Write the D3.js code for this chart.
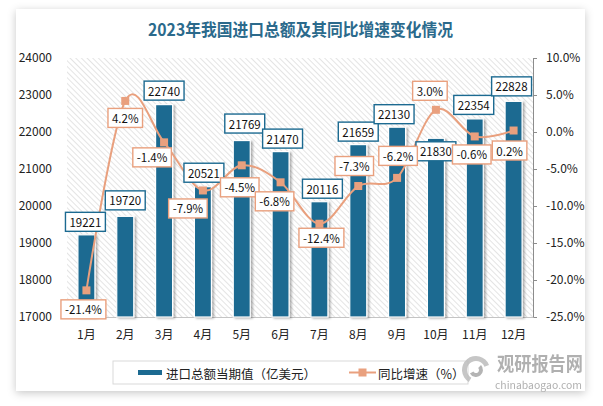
<!DOCTYPE html>
<html><head><meta charset="utf-8">
<script src="https://cdn.jsdelivr.net/npm/d3@7"></script>
<style>
html,body{margin:0;padding:0;background:#fff;}
svg{display:block;}
text{font-family:"Noto Sans CJK SC","Noto Sans",sans-serif;}
</style></head>
<body>
<script>
// ---- data ----
const months = ["1月","2月","3月","4月","5月","6月","7月","8月","9月","10月","11月","12月"];
const importValue = [19221,19720,22740,20521,21769,21470,20116,21659,22130,21830,22354,22828];
const yoyGrowth = [-21.4,4.2,-1.4,-7.9,-4.5,-6.8,-12.4,-7.3,-6.2,3.0,-0.6,0.2];
const leftTicks = [17000,18000,19000,20000,21000,22000,23000,24000];
const rightTicks = [-25,-20,-15,-10,-5,0,5,10];
const title = "2023年我国进口总额及其同比增速变化情况";
const seriesNames = ["进口总额当期值（亿美元）","同比增速（%）"];
// label placement offsets (px) for readability
const barLabelOff = [[-1,-13],[0,-16],[0,-14],[1,-14],[3,-17],[2,-13],[3,-13],[0,-13],[-3,-13],[0,13],[-1,-14],[-2,-15]];
const lineLabelOff = [[-3,19],[0,17],[-12,15],[-15,18],[-2,22],[-6,19],[2,14],[-4,-20],[1,-22],[-6,-19],[-3,18],[-4,20]];

const W=603,H=406;
const barColor="#1c6a91", lineColor="#e9a07e";
const plot={l:67,r:533,t:58,b:317};

const svg=d3.select("body").append("svg").attr("width",W).attr("height",H);
const defs=svg.append("defs");
const cs=defs.append("filter").attr("id","cardShadow").attr("x","-10%").attr("y","-10%").attr("width","120%").attr("height","125%");
cs.append("feDropShadow").attr("dx",0).attr("dy",2).attr("stdDeviation",4).attr("flood-color","#000").attr("flood-opacity",0.22);
const bs=defs.append("filter").attr("id","barShadow").attr("x","-50%").attr("y","-10%").attr("width","200%").attr("height","120%");
bs.append("feDropShadow").attr("dx",2).attr("dy",1).attr("stdDeviation",1).attr("flood-color","#000").attr("flood-opacity",0.3);
const pat=defs.append("pattern").attr("id","hatch").attr("patternUnits","userSpaceOnUse")
  .attr("width",4).attr("height",4).attr("patternTransform","rotate(-45)");
pat.append("rect").attr("width",4).attr("height",4).attr("fill","#fff");
pat.append("line").attr("x1",0).attr("y1",0).attr("x2",0).attr("y2",4).attr("stroke","#d2d2d2").attr("stroke-width",1.2);

// card
svg.append("rect").attr("x",16).attr("y",9).attr("width",569).attr("height",382).attr("fill","#fff").attr("filter","url(#cardShadow)");

// title
svg.append("text").attr("x",300.5).attr("y",36).attr("text-anchor","middle")
  .attr("font-size",17).attr("font-weight","bold").attr("fill","#2b6a8c")
  .attr("textLength",305).attr("lengthAdjust","spacingAndGlyphs").text(title);

// scales
const x=d3.scaleBand().domain(months).range([plot.l,plot.r]).paddingInner(0).paddingOuter(0);
const yL=d3.scaleLinear().domain([17000,24000]).range([plot.b,plot.t]);
const yR=d3.scaleLinear().domain([-25,10]).range([plot.b,plot.t]);

// plot background hatch
svg.append("rect").attr("x",plot.l).attr("y",plot.t).attr("width",plot.r-plot.l).attr("height",plot.b-plot.t).attr("fill","url(#hatch)");

// left axis (labels only)
const axL=svg.append("g").attr("transform",`translate(${plot.l},0)`)
  .call(d3.axisLeft(yL).tickValues(leftTicks).tickSize(0).tickPadding(15).tickFormat(d3.format("d")));
axL.select(".domain").remove();
axL.selectAll("text").attr("font-size",12).attr("fill","#222").style("font-family",'"Noto Sans CJK SC",sans-serif');

// right axis
const axR=svg.append("g").attr("transform",`translate(${plot.r},0)`)
  .call(d3.axisRight(yR).tickValues(rightTicks).tickSize(4).tickPadding(9).tickFormat(d=>d.toFixed(1)+"%"));
axR.select(".domain").attr("stroke","#8c8c8c");
axR.selectAll("line").attr("stroke","#8c8c8c");
axR.selectAll("text").attr("font-size",12).attr("fill","#222").style("font-family",'"Noto Sans CJK SC",sans-serif');

// bottom axis
const axB=svg.append("g").attr("transform",`translate(0,${plot.b})`)
  .call(d3.axisBottom(x).tickSize(0).tickPadding(13));
axB.select(".domain").attr("stroke","#c4c4c4");
axB.selectAll("text").attr("font-size",12).attr("fill","#222").style("font-family",'"Noto Sans CJK SC",sans-serif');

// bars
const bw=17;
svg.append("g").selectAll("rect").data(importValue).join("rect")
  .attr("x",(d,i)=>x(months[i])+x.bandwidth()/2-bw/2)
  .attr("y",d=>yL(d)).attr("width",bw).attr("height",d=>plot.b-yL(d))
  .attr("fill",barColor).attr("stroke","#fff").attr("stroke-width",1.2)
  .attr("filter","url(#barShadow)");

// line
const cx=i=>x(months[i])+x.bandwidth()/2;
const line=d3.line().x((d,i)=>cx(i)).y(d=>yR(d)).curve(d3.curveCardinal.tension(0));
svg.append("path").datum(yoyGrowth).attr("d",line).attr("fill","none").attr("stroke",lineColor).attr("stroke-width",2);
svg.append("g").selectAll("rect").data(yoyGrowth).join("rect")
  .attr("x",(d,i)=>cx(i)-4).attr("y",d=>yR(d)-4).attr("width",8).attr("height",8).attr("fill",lineColor);

// labels
function box(g,cxp,cyp,txt,stroke){
  const t=g.append("text").attr("x",cxp).attr("y",cyp).attr("text-anchor","middle").attr("dominant-baseline","central")
    .attr("font-size",11.5).attr("fill","#111").text(txt);
  const w=t.node().getComputedTextLength()+8, h=19;
  g.insert("rect","text").attr("x",cxp-w/2).attr("y",cyp-h/2).attr("width",w).attr("height",h)
    .attr("fill","#fff").attr("stroke",stroke).attr("stroke-width",1.4);
}
importValue.forEach((d,i)=>{
  const g=svg.append("g");
  box(g,cx(i)+barLabelOff[i][0],yL(d)+barLabelOff[i][1],String(d),barColor);
});
yoyGrowth.forEach((d,i)=>{
  const g=svg.append("g");
  box(g,cx(i)+lineLabelOff[i][0],yR(d)+lineLabelOff[i][1],d.toFixed(1)+"%",lineColor);
});

// legend
const lg=svg.append("g");
lg.append("rect").attr("x",113).attr("y",361).attr("width",355).attr("height",23).attr("fill","#fff").attr("stroke","#d9d9d9");
lg.append("rect").attr("x",138).attr("y",370).attr("width",24).attr("height",5).attr("fill",barColor);
lg.append("text").attr("x",166).attr("y",373).attr("dominant-baseline","central").attr("font-size",12.5).attr("fill","#222").text(seriesNames[0]);
lg.append("line").attr("x1",349).attr("x2",376).attr("y1",372.5).attr("y2",372.5).attr("stroke",lineColor).attr("stroke-width",2);
lg.append("rect").attr("x",358.5).attr("y",368.5).attr("width",8).attr("height",8).attr("fill",lineColor);
lg.append("text").attr("x",378).attr("y",373).attr("dominant-baseline","central").attr("font-size",12.5).attr("fill","#222").text(seriesNames[1]);

// watermark
const wm=svg.append("g").attr("opacity",0.85);
const arc=d3.arc();
wm.append("path").attr("transform","translate(476,370)")
  .attr("d",arc({innerRadius:9,outerRadius:14,startAngle:-2.6,endAngle:1.2})).attr("fill","#bdbdbd");
wm.append("path").attr("transform","translate(476,370)")
  .attr("d",arc({innerRadius:3,outerRadius:7,startAngle:0.8,endAngle:4.2})).attr("fill","#a8a8a8");
wm.append("text").attr("x",497).attr("y",371).attr("font-size",19).attr("font-weight","bold").attr("fill","#a3a3a3")
  .attr("textLength",86).attr("lengthAdjust","spacingAndGlyphs").text("观研报告网");
wm.append("text").attr("x",495).attr("y",389).attr("font-size",10).attr("fill","#a3a3a3")
  .attr("textLength",87).attr("lengthAdjust","spacingAndGlyphs").text("chinabaogao.com");
</script>
</body></html>
